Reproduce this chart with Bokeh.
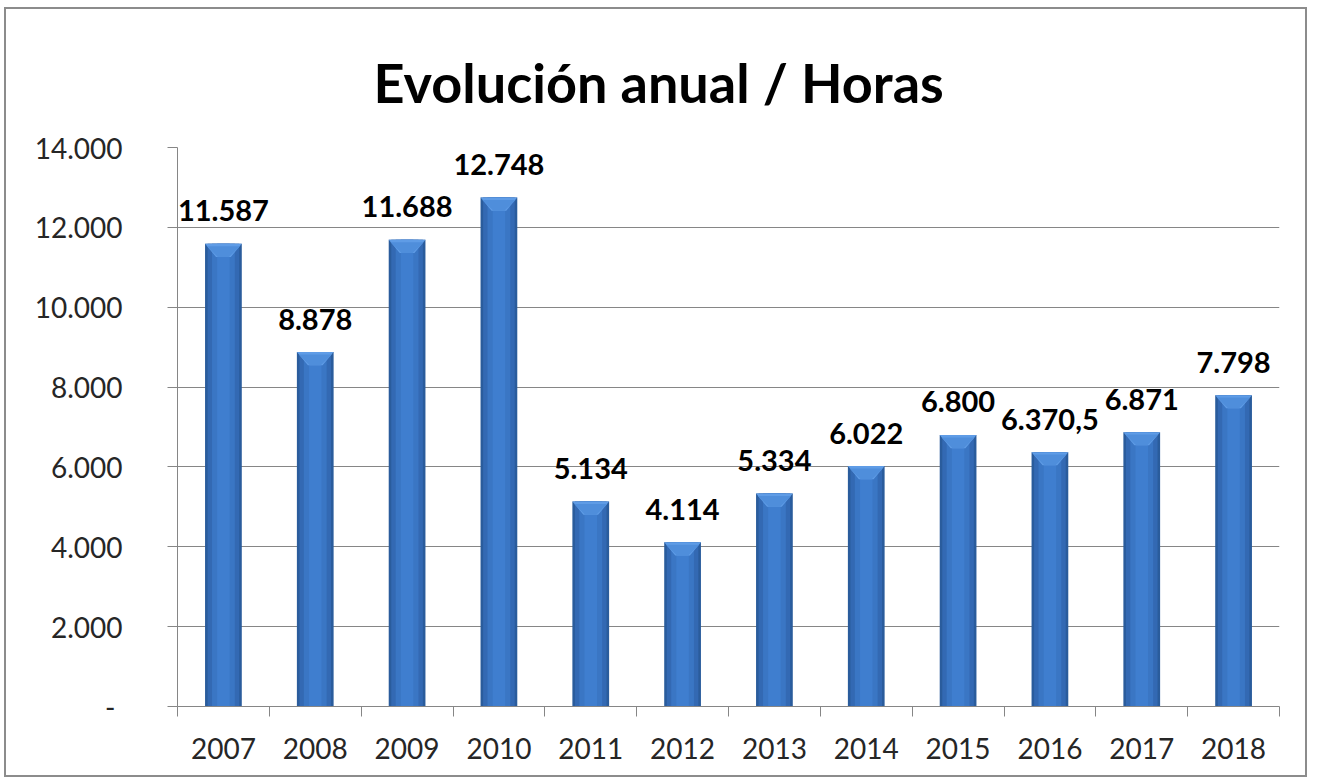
import numpy as np
from bokeh.plotting import figure
from bokeh.models import (ColumnDataSource, Range1d, FixedTicker, LabelSet)
from bokeh.core.properties import value
from bokeh.embed import file_html
from bokeh.resources import INLINE

# ---- data ----
years = ["2007", "2008", "2009", "2010", "2011", "2012", "2013", "2014", "2015", "2016", "2017", "2018"]
hours = [11587, 8878, 11688, 12748, 5134, 4114, 5334, 6022, 6800, 6370.5, 6871, 7798]
labels = ["11.587", "8.878", "11.688", "12.748", "5.134", "4.114", "5.334", "6.022", "6.800", "6.370,5", "6.871", "7.798"]
y_ticks = [0, 2000, 4000, 6000, 8000, 10000, 12000, 14000]
title_text = "Evolución anual / Horas"

FONT = "Lato"
W, H = 1303, 770

idx = np.arange(len(years))
p = figure(width=W, height=H, output_backend="svg", toolbar_location=None,
           x_range=Range1d(-0.5, len(years) - 0.5), y_range=Range1d(0, 14000),
           min_border_left=171, min_border_right=30, min_border_top=138, min_border_bottom=73,
           background_fill_color="white", border_fill_color="white")
p.outline_line_color = None
p.styles = {"border": "2px solid #8c8c8c", "margin-left": "4px", "margin-top": "7px"}

# title
p.title.text = title_text
p.title.align = "left"
p.title.text_font = FONT
p.title.text_font_style = "bold"
p.title.text_font_size = "54px"
p.title.text_color = "black"
p.title.offset = 196
p.title.standoff = 66

# y axis
p.yaxis.ticker = FixedTicker(ticks=y_ticks)
p.yaxis.major_label_overrides = {t: ("- " if t == 0 else f"{t:,}".replace(",", ".")) for t in y_ticks}
p.yaxis.major_label_text_font = FONT
p.yaxis.major_label_text_font_size = "28px"
p.yaxis.major_label_text_color = "#262626"
p.yaxis.major_label_standoff = 45
p.yaxis.major_tick_out = 10
p.yaxis.major_tick_in = 0
p.yaxis.minor_tick_out = 0
p.yaxis.minor_tick_in = 0
p.yaxis.axis_line_color = "#868686"
p.yaxis.major_tick_line_color = "#868686"

# x axis: labels at centres, ticks at boundaries
bounds = list(np.arange(-0.5, len(years), 1.0))
p.xaxis.ticker = FixedTicker(ticks=list(idx), minor_ticks=bounds)
p.xaxis.major_label_overrides = {int(i): y for i, y in zip(idx, years)}
p.xaxis.major_label_text_font = FONT
p.xaxis.major_label_text_font_size = "28px"
p.xaxis.major_label_text_color = "#262626"
p.xaxis.major_label_standoff = 21
p.xaxis.major_tick_out = 0
p.xaxis.major_tick_in = 0
p.xaxis.minor_tick_out = 10
p.xaxis.minor_tick_in = 0
p.xaxis.minor_tick_line_color = "#868686"
p.xaxis.axis_line_color = "#868686"

p.xgrid.grid_line_color = None
p.ygrid.ticker = FixedTicker(ticks=y_ticks[1:])
p.ygrid.grid_line_color = "#868686"
p.ygrid.grid_line_width = 1

# bars with pseudo-gradient
src = ColumnDataSource(dict(x=idx, top=hours, lab=labels))
bw = 0.40
p.vbar(x="x", top="top", width=bw, bottom=0, source=src, fill_color="#2a5c9c", line_color=None)
p.vbar(x="x", top="top", width=bw * 0.86, bottom=0, source=src, fill_color="#3369b3", line_color=None)
p.vbar(x="x", top="top", width=bw * 0.62, bottom=0, source=src, fill_color="#3a76c4", line_color=None)
p.vbar(x="x", top="top", width=bw * 0.34, bottom=0, source=src, fill_color="#3f7ecf", line_color=None)

# top bevel (trapezoid), derived from the data values
d = 330.0
xs = [[i - bw / 2, i + bw / 2, i + bw / 2 - 0.12, i - bw / 2 + 0.12] for i in idx]
ys = [[v, v, v - d, v - d] for v in hours]
p.patches(xs, ys, fill_color="#5f9ce6", line_color=None)
xs2 = [[i - bw / 2 + 0.02, i + bw / 2 - 0.02, i + bw / 2 - 0.14, i - bw / 2 + 0.14] for i in idx]
ys2 = [[v - 60, v - 60, v - d, v - d] for v in hours]
p.patches(xs2, ys2, fill_color="#4f8edb", line_color=None)

# data labels
p.add_layout(LabelSet(x="x", y="top", text="lab", source=src, y_offset=33,
                      text_align="center", text_baseline="middle",
                      text_font=value(FONT), text_font_style="bold",
                      text_font_size="29px", text_color="black"))

open("out.html", "w").write(file_html(p, INLINE))
